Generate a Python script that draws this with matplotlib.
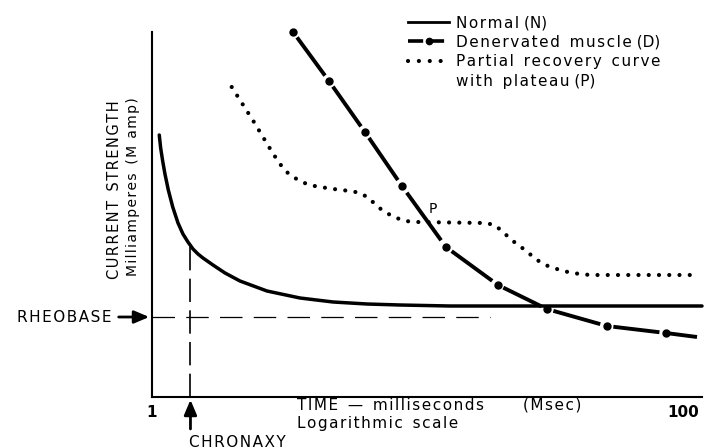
import numpy as np
import matplotlib
matplotlib.use("Agg")
import matplotlib.pyplot as plt
from matplotlib.lines import Line2D

# ---- data (time in ms, current strength in arbitrary units) ----
normal_t = [1.065, 1.078, 1.097, 1.119, 1.152, 1.197, 1.253, 1.308, 1.366, 1.427,
            1.490, 1.556, 1.697, 1.884, 2.145, 2.711, 3.61, 4.81, 6.45, 8.59,
            13.26, 31.6, 118]
normal_i = [262, 249, 236, 223, 207, 190, 174, 163, 155, 148,
            143, 139, 132, 124, 116, 106, 99, 95, 93, 92,
            91, 91, 91]

denerv_t = [3.40, 4.64, 6.34, 8.74, 12.8, 20.1, 30.7, 51.7, 86.3, 113]
denerv_i = [365, 316, 265, 211, 150, 112, 88, 71, 64, 60]

partial_t = [1.996, 2.408, 2.863, 3.150, 3.359, 3.609, 3.913, 4.294, 5.137, 5.616,
             6.073, 6.566, 7.021, 7.544, 8.156, 8.972, 9.93, 17.96, 19.58, 21.18,
             22.89, 25.41, 28.19, 31.0, 34.42, 38.18, 44.63, 112.9]
partial_i = [310, 276, 243, 227, 221, 216, 212, 210, 207, 206,
             204, 199, 191, 185, 180, 176, 175, 174, 172, 164,
             156, 147, 137, 131, 127, 124, 122, 122]

rheobase = 80
chronaxy = 1.396
chronaxy_i = 150
rheobase_end = 18.8

xtick_vals = [1, 100]
xtick_labels = ["1", "100"]

FONT = "DejaVu Sans"
plt.rcParams['font.family'] = [FONT]

def spaced(s, sep="\u200a"):
    return sep.join(list(s))

def words(*ws, sep="\u200a", gap="  "):
    return gap.join(spaced(w, sep) for w in ws)

fig = plt.figure(figsize=(7.06, 4.48), dpi=100)
ax = fig.add_axes([152/706, 51/448, 550/706, 365/448])
ax.set_xscale('log')
ax.set_xlim(1, 118)
ax.set_ylim(0, 365)
for s in ['top', 'right']:
    ax.spines[s].set_visible(False)
for s in ['left', 'bottom']:
    ax.spines[s].set_linewidth(1.5)
ax.set_yticks([])
ax.xaxis.set_minor_locator(matplotlib.ticker.NullLocator())
ax.set_xticks(xtick_vals)
ax.set_xticklabels(xtick_labels, fontweight='bold', fontsize=11)
ax.tick_params(axis='x', length=0, pad=6)

# Normal curve
ax.plot(normal_t, normal_i, color='black', lw=2.5, solid_capstyle='round',
        solid_joinstyle='round', clip_on=False)

# Partial recovery (dotted)
ax.plot(partial_t, partial_i, color='black', lw=3.0,
        linestyle=(0, (0.01, 2.45)), dash_capstyle='round', clip_on=False)

# Denervated: dashes between dots
lt = np.log10(denerv_t)
for k in range(len(denerv_t) - 1):
    a, b = 0.11, 0.89
    x0 = 10 ** (lt[k] + a * (lt[k+1] - lt[k]))
    x1 = 10 ** (lt[k] + b * (lt[k+1] - lt[k]))
    y0 = denerv_i[k] + a * (denerv_i[k+1] - denerv_i[k])
    y1 = denerv_i[k] + b * (denerv_i[k+1] - denerv_i[k])
    if k == len(denerv_t) - 2:
        x1, y1 = denerv_t[-1], denerv_i[-1]
    ax.plot([x0, x1], [y0, y1], color='black', lw=2.8, solid_capstyle='butt', clip_on=False)
ax.plot(denerv_t[:-1], denerv_i[:-1], 'o', color='black', ms=5, clip_on=False)

# Rheobase & chronaxy dashed lines
ax.plot([1, rheobase_end], [rheobase, rheobase], color='black', lw=0.9,
        linestyle=(0, (18, 9)))
ax.plot([chronaxy, chronaxy], [0, chronaxy_i], color='black', lw=1.2,
        linestyle=(0, (14, 5)))

# P label
ax.text(11.4, 181, "P", fontsize=10, ha='center', va='bottom')

arrow_kw = dict(arrowstyle='-|>,head_length=0.9,head_width=0.38', color='black', lw=2.0)

# Rheobase annotation
ax.annotate("", xy=(1, rheobase), xytext=(-26, 0), textcoords='offset points',
            arrowprops=arrow_kw, annotation_clip=False)
ax.annotate(spaced("RHEOBASE"), xy=(1, rheobase), xytext=(-29, 0),
            textcoords='offset points', ha='right', va='center', fontsize=11,
            annotation_clip=False)

# Chronaxy annotation
ax.annotate("", xy=(chronaxy, 0), xytext=(0, -25), textcoords='offset points',
            arrowprops=arrow_kw, annotation_clip=False)
ax.annotate(spaced("CHRONAXY"), xy=(chronaxy, 0), xytext=(-1, -27),
            textcoords='offset points', ha='left', va='top', fontsize=11,
            annotation_clip=False)

# X axis titles
fig.text(297/706, 1 - 405/448,
         spaced("TIME") + "  —  " + spaced("milliseconds") + "        " + spaced("(Msec)"),
         fontsize=11, va='center', ha='left')
fig.text(297/706, 1 - 423/448, words("Logarithmic", "scale"),
         fontsize=11, va='center', ha='left')

# Y axis titles
fig.text(115/706, 1 - 190/448, words("CURRENT", "STRENGTH"),
         rotation=90, fontsize=10.5, va='center', ha='center')
fig.text(133/706, 1 - 187/448, words("Milliamperes", "(M amp)"),
         rotation=90, fontsize=10, va='center', ha='center')

# Legend
handles = [
    Line2D([], [], color='black', lw=2.0),
    Line2D([], [], color='black', lw=2.6, marker='o', ms=4.5,
           linestyle=(0, (4.2, 1.6))),
    Line2D([], [], color='black', lw=3.0, linestyle=(0, (0.01, 2.6)),
           dash_capstyle='round'),
    Line2D([], [], color='none', lw=0),
]
labels = [spaced("Normal") + " (N)",
          words("Denervated", "muscle") + " (D)",
          words("Partial", "recovery", "curve"),
          words("with", "plateau") + " (P)"]
leg = ax.legend(handles, labels, loc='upper left', bbox_to_anchor=(408/706, 1 - 15/448),
                bbox_transform=fig.transFigure, frameon=False, fontsize=11,
                handlelength=2.7, handletextpad=0.45, labelspacing=0.3, numpoints=1,
                borderpad=0, borderaxespad=0)

fig.savefig("out.png", dpi=100)
